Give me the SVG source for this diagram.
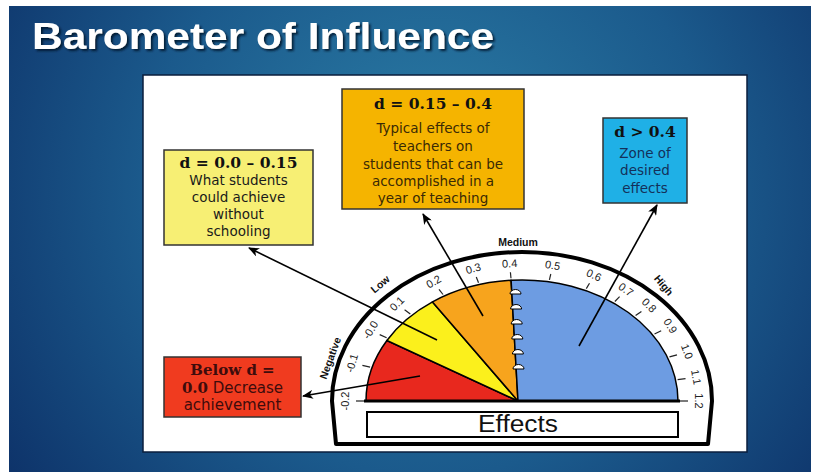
<svg xmlns="http://www.w3.org/2000/svg" width="814" height="472" viewBox="0 0 814 472">
<defs>
<radialGradient id="bg" cx="430" cy="190" r="520" gradientUnits="userSpaceOnUse">
<stop offset="0" stop-color="#2c7fa7"/>
<stop offset="0.55" stop-color="#1b5a8c"/>
<stop offset="1" stop-color="#0d3168"/>
</radialGradient>
<filter id="shadow" x="-5%" y="-20%" width="110%" height="150%">
<feDropShadow dx="2" dy="2" stdDeviation="1.2" flood-color="#06162e" flood-opacity="0.9"/>
</filter>
<marker id="ah" markerUnits="userSpaceOnUse" markerWidth="11" markerHeight="9" refX="10" refY="4.5" orient="auto">
<path d="M0,0 L11,4.5 L0,9 L3,4.5 Z" fill="#000"/>
</marker>
<style>
.boxh{font-family:"DejaVu Serif","Liberation Serif",serif;font-weight:bold;font-size:15.5px;text-anchor:middle;fill:#111}
.boxt{font-family:"DejaVu Sans","Liberation Sans",sans-serif;font-size:13.5px;text-anchor:middle}
.tick{stroke:#222;stroke-width:1.2}
.lbl{font-family:"Liberation Sans","DejaVu Sans",sans-serif;font-size:11px;fill:#222;text-anchor:middle;dominant-baseline:central}
.cat{font-family:"Liberation Sans","DejaVu Sans",sans-serif;font-size:10.5px;font-weight:bold;fill:#111;text-anchor:middle;dominant-baseline:central}
.conn{stroke:#000;stroke-width:1.6;fill:none;marker-end:url(#ah)}
.sec{stroke:#000;stroke-width:1.5;stroke-linejoin:round}
.hook{fill:#fff;stroke:#000;stroke-width:1}
</style>
</defs>

<rect x="0" y="0" width="814" height="472" fill="#fff"/>
<rect x="9" y="6" width="802" height="466" fill="url(#bg)"/>

<g id="title">
<text x="32" y="49" font-family="Liberation Sans, Arial, sans-serif" font-weight="bold" font-size="36" fill="#ffffff" textLength="462" lengthAdjust="spacingAndGlyphs" filter="url(#shadow)">Barometer of Influence</text>
</g>

<rect x="143" y="75" width="604" height="377" fill="#ffffff" stroke="#0a1e3c" stroke-width="1.5"/>

<g id="gauge">
<path d="M336,444 L332,401 A190,149 0 0 1 712,401 L708,444 Z" fill="#fff" stroke="#000" stroke-width="4" stroke-linejoin="round"/>
<path class="sec" d="M518,401 L366,401 A156,121 0 0 1 386.9,340.5 Z" fill="#e8281e"/>
<path class="sec" d="M518,401 L386.9,340.5 A156,121 0 0 1 432.5,301.9 Z" fill="#fbf01c"/>
<path class="sec" d="M518,401 L432.5,301.9 A156,121 0 0 1 511.1,280.3 Z" fill="#f7a41d"/>
<path class="sec" d="M518,401 L511.1,280.3 A156,121 0 0 1 678,401 Z" fill="#6d9ce2"/>
<line x1="364" y1="401" x2="680" y2="401" stroke="#000" stroke-width="3"/>
<g id="binding">
<path class="hook" d="M510,294 a5.5,4.5 0 0 1 11,0 Z"/>
<path class="hook" d="M510.6,309 a5.5,4.5 0 0 1 11,0 Z"/>
<path class="hook" d="M511.2,324 a5.5,4.5 0 0 1 11,0 Z"/>
<path class="hook" d="M511.8,339 a5.5,4.5 0 0 1 11,0 Z"/>
<path class="hook" d="M512.4,354 a5.5,4.5 0 0 1 11,0 Z"/>
<path class="hook" d="M513,369 a5.5,4.5 0 0 1 11,0 Z"/>
</g>
<g id="ticks">
<line class="tick" x1="364" y1="401" x2="356" y2="401"/>
<line class="tick" x1="370.1" y1="367.1" x2="362.4" y2="365.4"/>
<line class="tick" x1="386.6" y1="337.7" x2="379.7" y2="334.6"/>
<line class="tick" x1="410.3" y1="314" x2="404.6" y2="309.8"/>
<line class="tick" x1="443" y1="294.5" x2="439" y2="289.3"/>
<line class="tick" x1="478.5" y1="282.8" x2="476.3" y2="277"/>
<line class="tick" x1="511" y1="278.3" x2="510.4" y2="272.3"/>
<line class="tick" x1="549.4" y1="279.9" x2="550.8" y2="274"/>
<line class="tick" x1="586.3" y1="288.6" x2="589.5" y2="283.2"/>
<line class="tick" x1="614.9" y1="301.5" x2="619.6" y2="296.6"/>
<line class="tick" x1="635.6" y1="315.6" x2="641.4" y2="311.4"/>
<line class="tick" x1="654.5" y1="334" x2="661.2" y2="330.7"/>
<line class="tick" x1="669.5" y1="356.9" x2="677" y2="354.8"/>
<line class="tick" x1="677.6" y1="379.6" x2="685.5" y2="378.6"/>
<line class="tick" x1="680" y1="401" x2="688" y2="401"/>
</g>
<g id="scale">
<text class="lbl" transform="translate(345,401) rotate(-90)">-0.2</text>
<text class="lbl" transform="translate(351.8,363) rotate(-74)">-0.1</text>
<text class="lbl" transform="translate(370.3,329.9) rotate(-59)">-0.0</text>
<text class="lbl" transform="translate(396.8,303.4) rotate(-45)">0.1</text>
<text class="lbl" transform="translate(433.5,281.5) rotate(-30)">0.2</text>
<text class="lbl" transform="translate(473.2,268.3) rotate(-16)">0.3</text>
<text class="lbl" transform="translate(509.6,263.3) rotate(-4)">0.4</text>
<text class="lbl" transform="translate(552.7,265.1) rotate(10)">0.5</text>
<text class="lbl" transform="translate(594,274.9) rotate(24)">0.6</text>
<text class="lbl" transform="translate(626,289.4) rotate(36)">0.7</text>
<text class="lbl" transform="translate(649.3,305.1) rotate(46)">0.8</text>
<text class="lbl" transform="translate(670.4,325.8) rotate(57)">0.9</text>
<text class="lbl" transform="translate(687.2,351.5) rotate(69)">1.0</text>
<text class="lbl" transform="translate(696.3,377) rotate(80)">1.1</text>
<text class="lbl" transform="translate(699,401) rotate(90)">1.2</text>
</g>
<g id="categories">
<text class="cat" transform="translate(330,358) rotate(-70)">Negative</text>
<text class="cat" transform="translate(380,284) rotate(-40)">Low</text>
<text class="cat" x="518" y="242">Medium</text>
<text class="cat" transform="translate(664,285) rotate(50)">High</text>
</g>
<g id="effects">
<rect x="367" y="412" width="311" height="25" fill="#fff" stroke="#000" stroke-width="2"/>
<text x="518" y="432" font-family="Liberation Sans, Arial, sans-serif" font-size="23" fill="#111" text-anchor="middle" textLength="80" lengthAdjust="spacingAndGlyphs">Effects</text>
</g>
</g>

<g id="connectors">
<line class="conn" x1="420" y1="376" x2="303" y2="396"/>
<line class="conn" x1="437" y1="340" x2="249" y2="248"/>
<line class="conn" x1="483" y1="316" x2="423" y2="214"/>
<line class="conn" x1="579" y1="346" x2="657" y2="205"/>
</g>

<g id="node-yellow">
<rect x="164" y="150" width="149" height="95" fill="#f7ef74" stroke="#333" stroke-width="1.5"/>
<text class="boxh" x="238.5" y="168">d = 0.0 – 0.15</text>
<text class="boxt" x="238.5" y="185" fill="#1a1a1a">What students</text>
<text class="boxt" x="238.5" y="202" fill="#1a1a1a">could achieve</text>
<text class="boxt" x="238.5" y="219" fill="#1a1a1a">without</text>
<text class="boxt" x="238.5" y="236" fill="#1a1a1a">schooling</text>
</g>

<g id="node-orange">
<rect x="342" y="89" width="182" height="120" fill="#f5b400" stroke="#333" stroke-width="1.5"/>
<text class="boxh" x="433" y="109">d = 0.15 – 0.4</text>
<text class="boxt" x="433" y="133" fill="#3a2a05">Typical effects of</text>
<text class="boxt" x="433" y="151" fill="#3a2a05">teachers on</text>
<text class="boxt" x="433" y="169" fill="#3a2a05">students that can be</text>
<text class="boxt" x="433" y="186" fill="#3a2a05">accomplished in a</text>
<text class="boxt" x="433" y="203" fill="#3a2a05">year of teaching</text>
</g>

<g id="node-blue">
<rect x="603" y="118" width="84" height="85" fill="#1fb0e6" stroke="#333" stroke-width="1.5"/>
<text class="boxh" x="645" y="137">d &gt; 0.4</text>
<text class="boxt" x="645" y="158" fill="#14305a">Zone of</text>
<text class="boxt" x="645" y="175" fill="#14305a">desired</text>
<text class="boxt" x="645" y="193" fill="#14305a">effects</text>
</g>

<g id="node-red">
<rect x="164" y="357" width="137" height="60" fill="#f03b1f" stroke="#333" stroke-width="1.5"/>
<text x="232.5" y="375" font-family="DejaVu Serif, Liberation Serif, serif" font-weight="bold" font-size="15" fill="#3e0c0c" text-anchor="middle">Below d =</text>
<text x="232.5" y="393" font-size="15" fill="#3e0c0c" text-anchor="middle"><tspan font-family="DejaVu Serif, Liberation Serif, serif" font-weight="bold">0.0</tspan><tspan font-family="DejaVu Sans, Liberation Sans, sans-serif"> Decrease</tspan></text>
<text x="232.5" y="410" font-family="DejaVu Sans, Liberation Sans, sans-serif" font-size="15" fill="#3e0c0c" text-anchor="middle">achievement</text>
</g>
</svg>
